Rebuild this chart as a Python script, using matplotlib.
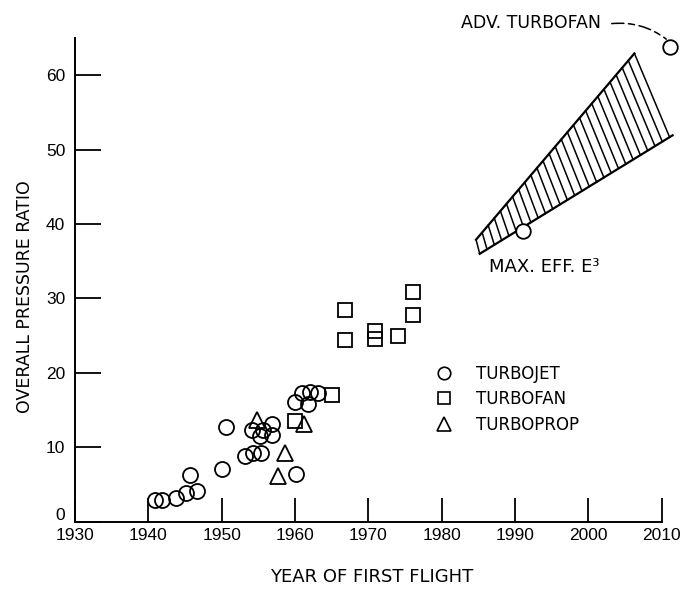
import numpy as np
import matplotlib
matplotlib.use("Agg")
import matplotlib.pyplot as plt
from matplotlib.lines import Line2D
from matplotlib.transforms import ScaledTranslation

plt.rcParams['font.family'] = ['DejaVu Sans']
TICKFONT = ['Liberation Sans', 'DejaVu Sans']

# ---- data ----
turbojet_year = [1940.9, 1941.9, 1943.8, 1945.2, 1946.6, 1945.7, 1950.0, 1950.6,
                 1953.2, 1954.3, 1955.4, 1954.1, 1955.7, 1956.9, 1956.8, 1955.2,
                 1960.2, 1960.0, 1961.8, 1960.9, 1962.0, 1963.1]
turbojet_opr = [2.9, 2.9, 3.2, 3.9, 4.2, 6.3, 7.1, 12.7,
                8.8, 9.2, 9.2, 12.3, 12.3, 13.2, 11.7, 11.5,
                6.5, 16.1, 15.9, 17.3, 17.5, 17.3]

turbofan_year = [1960.0, 1965.0, 1966.8, 1966.8, 1970.9, 1970.9, 1974.0, 1976.1, 1976.1]
turbofan_opr = [13.5, 17.0, 28.5, 24.4, 25.6, 24.5, 24.9, 30.9, 27.8]

turboprop_year = [1954.8, 1958.6, 1957.7, 1961.3]
turboprop_opr = [13.7, 9.2, 6.2, 13.2]

# future band (E3 trend) boundaries
band_upper_year = [1984.7, 2006.3]
band_upper_opr = [37.9, 62.9]
band_lower_year = [1985.2, 2011.5]
band_lower_opr = [36.0, 51.9]

max_eff_year, max_eff_opr = 1991.1, 39.0
adv_year, adv_opr = 2011.1, 63.8

x_ticks = [1930, 1940, 1950, 1960, 1970, 1980, 1990, 2000, 2010]
y_ticks = [0, 10, 20, 30, 40, 50, 60]

# ---- figure ----
fig = plt.figure(figsize=(6.82, 5.91), dpi=100)
ax = fig.add_axes([0.110, 0.1168, 0.860, 0.8193])
ax.set_xlim(1930, 2010)
ax.set_ylim(0, 65)

mk = dict(linestyle='none', mec='black', mew=1.3, clip_on=False)
ax.plot(turbojet_year, turbojet_opr, marker='o', ms=10.8, mfc='none', **mk)
ax.plot(turbofan_year, turbofan_opr, marker='s', ms=9.5, mfc='none', **mk)
ax.plot(turboprop_year, turboprop_opr, marker='^', ms=11, mfc='none', **mk)

# hatched band
ax.plot(band_upper_year, band_upper_opr, color='black', lw=1.6, clip_on=False)
ax.plot(band_lower_year, band_lower_opr, color='black', lw=1.6, clip_on=False)
n_hatch = 27
s = np.linspace(0, 1, n_hatch)
hatch_lower_end = 2011.1
lower_slope = (band_lower_opr[1] - band_lower_opr[0]) / (band_lower_year[1] - band_lower_year[0])
xt = band_upper_year[0] + s * (band_upper_year[1] - band_upper_year[0])
yt = band_upper_opr[0] + s * (band_upper_opr[1] - band_upper_opr[0])
xb = band_lower_year[0] + s * (hatch_lower_end - band_lower_year[0])
yb = band_lower_opr[0] + lower_slope * (xb - band_lower_year[0])
for a, b, c, d in zip(xt, xb, yt, yb):
    ax.plot([a, b], [c, d], color='black', lw=1.1, clip_on=False)

ax.plot([max_eff_year], [max_eff_opr], marker='o', ms=10.5, mfc='white', **mk)
ax.plot([adv_year], [adv_opr], marker='o', ms=10.5, mfc='white', **mk)

ax.text(1986.5, 34.2, 'MAX. EFF. E³', fontsize=13, ha='left', va='center')
ax.text(1982.7, 67.0, 'ADV. TURBOFAN', fontsize=12.5, ha='left', va='center', clip_on=False)
ax.annotate('', xy=(adv_year - 0.3, adv_opr + 0.9), xytext=(2003.2, 66.9),
            annotation_clip=False,
            arrowprops=dict(arrowstyle='-', color='black', lw=1.1, linestyle=(0, (8, 3, 4, 3)),
                            connectionstyle='arc3,rad=-0.2', shrinkA=0, shrinkB=1))

# legend
handles = [Line2D([], [], marker='o', ms=9, linestyle='none', mfc='none', mec='black', mew=1.2),
           Line2D([], [], marker='s', ms=8.5, linestyle='none', mfc='none', mec='black', mew=1.2),
           Line2D([], [], marker='^', ms=9.5, linestyle='none', mfc='none', mec='black', mew=1.2)]
ax.legend(handles, ['TURBOJET', 'TURBOFAN', 'TURBOPROP'], loc='upper left',
          bbox_to_anchor=(1979.2, 21.1), bbox_transform=ax.transData, frameon=False,
          fontsize=12, handlelength=1.0, handletextpad=1.4, labelspacing=0.45,
          borderpad=0, borderaxespad=0)

# axes styling
for sp in ['top', 'right']:
    ax.spines[sp].set_visible(False)
for sp in ['left', 'bottom']:
    ax.spines[sp].set_linewidth(1.4)
ax.set_xticks(x_ticks)
ax.set_yticks(y_ticks)
ax.tick_params(axis='both', direction='in', width=1.3, labelsize=12.5)
ax.tick_params(axis='y', length=18.5, pad=7)
ax.tick_params(axis='x', length=17.5, pad=4)
for lab in ax.get_xticklabels() + ax.get_yticklabels():
    lab.set_family(TICKFONT)
ylabs = ax.get_yticklabels()
ylabs[0].set_transform(ylabs[0].get_transform() + ScaledTranslation(0, 6 / 72, fig.dpi_scale_trans))

ax.set_xlabel('YEAR OF FIRST FLIGHT', fontsize=13, va='center')
ax.set_ylabel('OVERALL PRESSURE RATIO', fontsize=12.5, va='center')
ax.xaxis.set_label_coords(0.506, -0.114)
ax.yaxis.set_label_coords(-0.085, 0.465)

fig.savefig('out.png', dpi=100)
